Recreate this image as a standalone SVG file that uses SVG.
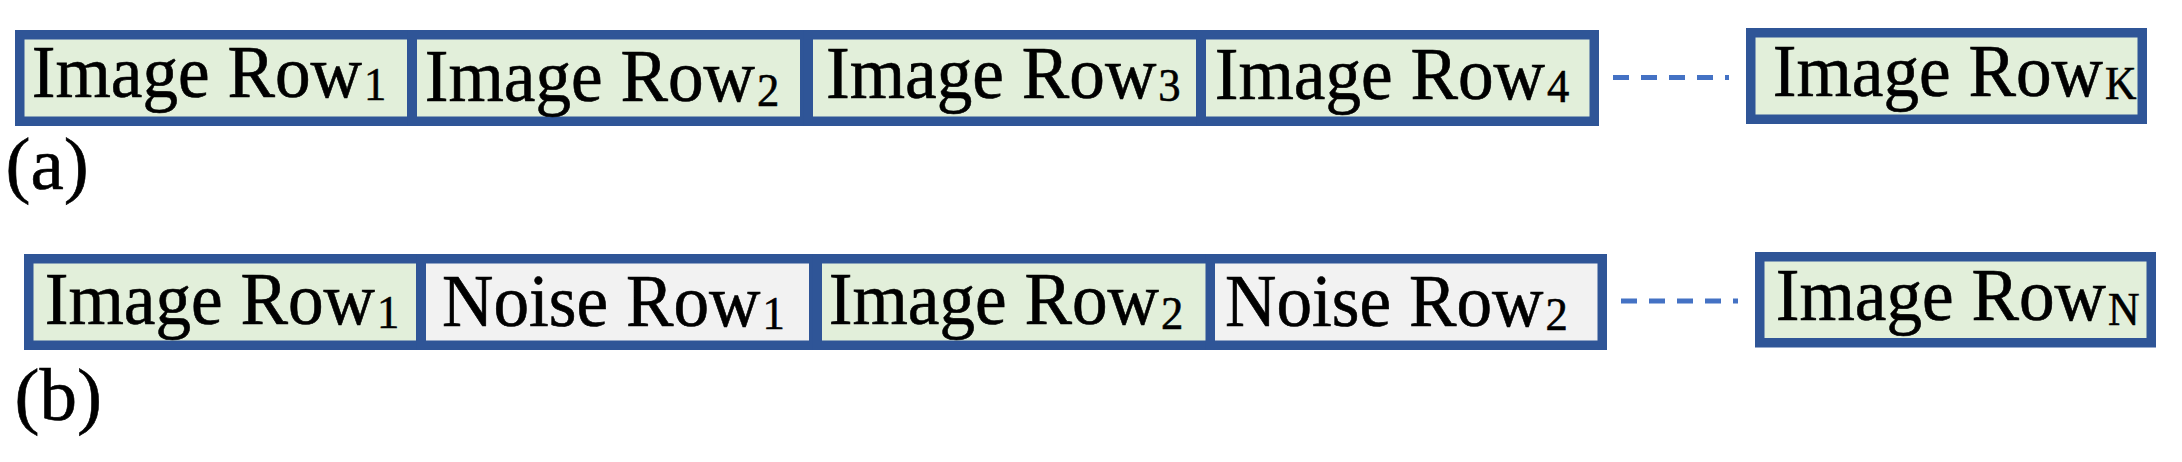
<svg xmlns="http://www.w3.org/2000/svg" width="2182" height="462" viewBox="0 0 2182 462">
  <style>
    .cell { stroke: #2F5597; stroke-width: 9.5; }
    .img { fill: #E2EFDA; }
    .noise { fill: #F2F2F2; }
    .lbl { font-family: "Liberation Serif", "Times New Roman", serif; font-size: 75px; fill: #000; stroke: #000; stroke-width: 0.6; }
    .sub { font-size: 47px; }
    .tag { font-family: "Liberation Serif", "Times New Roman", serif; font-size: 75px; fill: #000; stroke: #000; stroke-width: 0.6; }
    .dash { stroke: #4472C4; stroke-width: 5; stroke-dasharray: 16 12; fill: none; }
  </style>

  <!-- Row (a) -->
  <g id="a-image-row-1">
    <rect class="cell img" x="19.75" y="34.75" width="392" height="86.5"/>
    <text class="lbl" transform="translate(31.7,96.7) scale(0.95,1)">Image Row<tspan class="sub" dx="2" dy="3.5">1</tspan></text>
  </g>
  <g id="a-image-row-2">
    <rect class="cell img" x="412.25" y="34.75" width="392.5" height="86.5"/>
    <text class="lbl" transform="translate(424.7,101) scale(0.95,1)">Image Row<tspan class="sub" dx="2" dy="5">2</tspan></text>
  </g>
  <g id="a-image-row-3">
    <rect class="cell img" x="808.25" y="34.75" width="392.5" height="86.5"/>
    <text class="lbl" transform="translate(826,98.3) scale(0.95,1)">Image Row<tspan class="sub" dx="2" dy="3">3</tspan></text>
  </g>
  <g id="a-image-row-4">
    <rect class="cell img" x="1201.25" y="34.75" width="393" height="86.5"/>
    <text class="lbl" transform="translate(1214.7,98.7) scale(0.95,1)">Image Row<tspan class="sub" dx="2" dy="3.5">4</tspan></text>
  </g>
  <g id="a-image-row-k">
    <rect class="cell img" x="1750.75" y="32.75" width="391.5" height="86.5"/>
    <text class="lbl" transform="translate(1772.7,96) scale(0.95,1)">Image Row<tspan class="sub" dx="2" dy="2.5" style="font-size:46px">K</tspan></text>
  </g>
  <g id="label-a">
    <text class="tag" x="5.5" y="188.5">(a)</text>
  </g>

  <!-- Row (b) -->
  <g id="b-image-row-1">
    <rect class="cell img" x="28.75" y="258.75" width="392" height="86.5"/>
    <text class="lbl" transform="translate(44.7,324) scale(0.95,1)">Image Row<tspan class="sub" dx="2" dy="3.5">1</tspan></text>
  </g>
  <g id="b-noise-row-1">
    <rect class="cell noise" x="421.25" y="258.75" width="392.5" height="86.5"/>
    <text class="lbl" transform="translate(442,325.7) scale(0.95,1)">Noise Row<tspan class="sub" dx="2" dy="3.5">1</tspan></text>
  </g>
  <g id="b-image-row-2">
    <rect class="cell img" x="817.25" y="258.75" width="393.5" height="86.5"/>
    <text class="lbl" transform="translate(828.7,324) scale(0.95,1)">Image Row<tspan class="sub" dx="2" dy="4.5">2</tspan></text>
  </g>
  <g id="b-noise-row-2">
    <rect class="cell noise" x="1210.25" y="258.75" width="392" height="86.5"/>
    <text class="lbl" transform="translate(1225,325.7) scale(0.95,1)">Noise Row<tspan class="sub" dx="2" dy="4">2</tspan></text>
  </g>
  <g id="b-image-row-n">
    <rect class="cell img" x="1759.75" y="256.75" width="391.5" height="86"/>
    <text class="lbl" transform="translate(1775.7,320) scale(0.95,1)">Image Row<tspan class="sub" dx="2" dy="5" style="font-size:46px">N</tspan></text>
  </g>
  <g id="label-b">
    <text class="tag" x="14.5" y="420">(b)</text>
  </g>

  <!-- Connectors -->
  <g id="connectors">
    <line class="dash" x1="1613" y1="77.5" x2="1729" y2="77.5"/>
    <line class="dash" x1="1621" y1="301" x2="1738" y2="301"/>
  </g>
</svg>
